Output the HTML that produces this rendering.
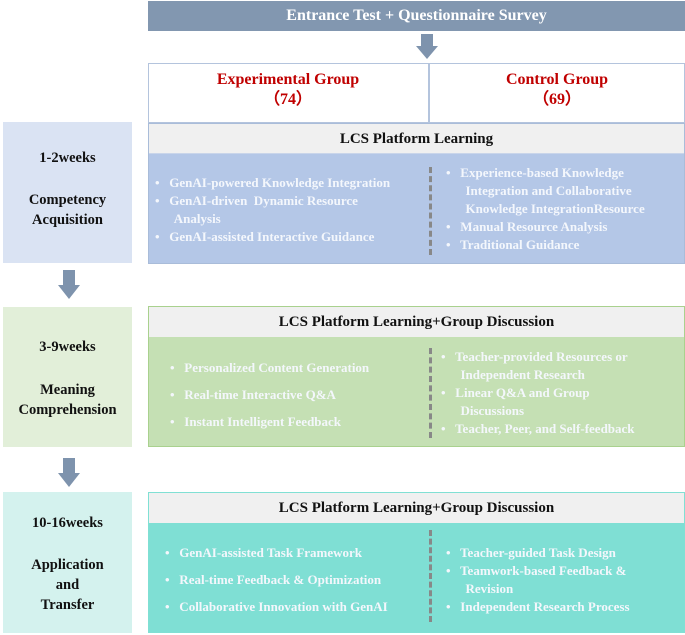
<!DOCTYPE html>
<html><head><meta charset="utf-8"><style>
body{margin:0;width:685px;height:635px;background:#fff;position:relative;overflow:hidden;font-family:"Liberation Serif",serif;font-weight:bold}
div{position:absolute;box-sizing:border-box}
.t{white-space:nowrap;line-height:18px}
.w{color:#f4f7fc;font-size:13px}
.c{text-align:center}
.lab{font-size:14.5px;color:#111;left:3px;width:129px;text-align:center;line-height:20px}
.dash{width:0;border-left:3px dashed #888}
.arr{width:0;height:0}
</style></head><body>
<!-- top bar -->
<div style="left:148px;top:1px;width:537px;height:30px;background:#8297b0;color:#fff;font-size:16px;line-height:30px;text-align:center">Entrance Test + Questionnaire Survey</div>
<!-- arrow -->
<div style="left:421px;top:34px;width:12px;height:13px;background:#7e93ad"></div>
<div style="left:416px;top:46px;border-left:11px solid transparent;border-right:11px solid transparent;border-top:13px solid #7e93ad"></div>
<!-- groups -->
<div style="left:148px;top:63px;width:537px;height:60px;border:1.5px solid #b4c4dd;background:#fff"></div>
<div style="left:428px;top:63px;width:1.5px;height:60px;background:#b4c4dd"></div>
<div class="t c" style="left:148px;top:70px;width:280px;color:#c00000;font-size:16px;line-height:20px">Experimental Group<br>（74）</div>
<div class="t c" style="left:429px;top:70px;width:256px;color:#c00000;font-size:16px;line-height:20px">Control Group<br>（69）</div>
<!-- section 1 -->
<div style="left:3px;top:122px;width:129px;height:141px;background:#dae3f3"></div>
<div class="lab" style="top:148px">1-2weeks</div>
<div class="lab" style="top:190px">Competency<br>Acquisition</div>
<div style="left:148px;top:123px;width:537px;height:141px;border:1.5px solid #a9bcd9;background:#b4c7e7"></div>
<div style="left:149px;top:124px;width:535px;height:30px;background:#f0f0f0;border-bottom:1px solid #c9d5ea;font-size:15px;line-height:30px;text-align:center;color:#111">LCS Platform Learning</div>
<div class="dash" style="left:429px;top:167px;height:88px"></div>
<div class="t w" style="left:155px;top:174px">•&nbsp;&nbsp; GenAI-powered Knowledge Integration<br>•&nbsp;&nbsp; GenAI-driven&nbsp; Dynamic Resource<br>&nbsp;&nbsp;&nbsp;&nbsp;&nbsp; Analysis<br>•&nbsp;&nbsp; GenAI-assisted Interactive Guidance</div>
<div class="t w" style="left:446px;top:164px">•&nbsp;&nbsp; Experience-based Knowledge<br>&nbsp;&nbsp;&nbsp;&nbsp;&nbsp; Integration and Collaborative<br>&nbsp;&nbsp;&nbsp;&nbsp;&nbsp; Knowledge IntegrationResource<br>•&nbsp;&nbsp; Manual Resource Analysis<br>•&nbsp;&nbsp; Traditional Guidance</div>
<!-- arrow -->
<div style="left:63px;top:270px;width:12px;height:16px;background:#7e93ad"></div>
<div style="left:58px;top:285px;border-left:11px solid transparent;border-right:11px solid transparent;border-top:14px solid #7e93ad"></div>
<!-- section 2 -->
<div style="left:3px;top:307px;width:129px;height:140px;background:#e2efd9"></div>
<div class="lab" style="top:337px">3-9weeks</div>
<div class="lab" style="top:380px">Meaning<br>Comprehension</div>
<div style="left:148px;top:306px;width:537px;height:141px;border:1.5px solid #a9d18e;background:#c5e0b4"></div>
<div style="left:149px;top:307px;width:535px;height:30px;background:#f0f0f0;font-size:15px;line-height:30px;text-align:center;color:#111">LCS Platform Learning+Group Discussion</div>
<div class="dash" style="left:429px;top:348px;height:90px"></div>
<div class="t w" style="left:170px;top:354px;line-height:27px">•&nbsp;&nbsp; Personalized Content Generation<br>•&nbsp;&nbsp; Real-time Interactive Q&amp;A<br>•&nbsp;&nbsp; Instant Intelligent Feedback</div>
<div class="t w" style="left:441px;top:348px">•&nbsp;&nbsp; Teacher-provided Resources or<br>&nbsp;&nbsp;&nbsp;&nbsp;&nbsp; Independent Research<br>•&nbsp;&nbsp; Linear Q&amp;A and Group<br>&nbsp;&nbsp;&nbsp;&nbsp;&nbsp; Discussions<br>•&nbsp;&nbsp; Teacher, Peer, and Self-feedback</div>
<!-- arrow -->
<div style="left:63px;top:458px;width:12px;height:16px;background:#7e93ad"></div>
<div style="left:58px;top:473px;border-left:11px solid transparent;border-right:11px solid transparent;border-top:14px solid #7e93ad"></div>
<!-- section 3 -->
<div style="left:3px;top:492px;width:129px;height:141px;background:#d4f2ee"></div>
<div class="lab" style="top:513px">10-16weeks</div>
<div class="lab" style="top:555px">Application<br>and<br>Transfer</div>
<div style="left:148px;top:492px;width:537px;height:141px;border:1.5px solid #80e0d4;background:#7fdfd4"></div>
<div style="left:149px;top:493px;width:535px;height:30px;background:#f0f0f0;font-size:15px;line-height:30px;text-align:center;color:#111">LCS Platform Learning+Group Discussion</div>
<div class="dash" style="left:429px;top:530px;height:92px"></div>
<div class="t w" style="left:165px;top:539px;line-height:27px">•&nbsp;&nbsp; GenAI-assisted Task Framework<br>•&nbsp;&nbsp; Real-time Feedback &amp; Optimization<br>•&nbsp;&nbsp; Collaborative Innovation with GenAI</div>
<div class="t w" style="left:446px;top:544px">•&nbsp;&nbsp; Teacher-guided Task Design<br>•&nbsp;&nbsp; Teamwork-based Feedback &amp;<br>&nbsp;&nbsp;&nbsp;&nbsp;&nbsp; Revision<br>•&nbsp;&nbsp; Independent Research Process</div>
</body></html>
